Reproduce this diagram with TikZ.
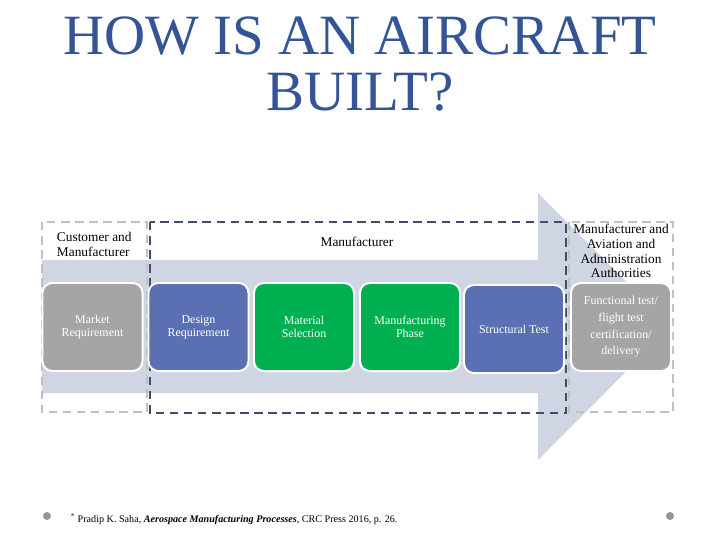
\documentclass[tikz,border=0pt]{standalone}
\usepackage{fontspec}
\setmainfont{Liberation Serif}
\usetikzlibrary{positioning}
\definecolor{acTitle}{RGB}{52,84,150}
\definecolor{acBlue}{RGB}{91,112,178}
\definecolor{acGreen}{RGB}{0,176,80}
\definecolor{acGrey}{RGB}{165,165,165}
\definecolor{acArrow}{RGB}{208,213,227}
\definecolor{acDark}{RGB}{62,78,106}
\definecolor{acLight}{RGB}{192,192,192}
\definecolor{acBack}{RGB}{224,224,224}
\definecolor{acDot}{RGB}{150,150,150}
\pgfdeclarehorizontalshading{slideback}{100bp}{color(0bp)=(acBack);
  color(25bp)=(white); color(75bp)=(white); color(100bp)=(acBack)}

\begin{document}
\begin{tikzpicture}[x=0.025cm, y=-0.025cm,
    stage/.style={rounded corners=7pt, draw=white, line width=1.4pt, text=white,
      minimum width=2.5cm, minimum height=2.2cm, align=center,
      font=\fontsize{8.5}{9.5}\selectfont},
    party/.style={align=center, font=\fontsize{9.5}{10.5}\selectfont},
    frame/.style={dash pattern=on 6pt off 4pt, line width=1.7pt}]
        \useasboundingbox (0,0) rectangle (720,540);
        \shade[shading=slideback] (0,0) rectangle (720,540);
        % title
        \node[acTitle, align=center, font=\fontsize{40.5}{39.5}\selectfont] (title) at (360,64)
          {HOW IS AN AIRCRAFT\\BUILT?};
        % groups and arrow
        \fill[white] (42,222) rectangle (673,413);
        \fill[acArrow] (42,260) -- (538,260) -- (538,193) -- (671,326.5)
          -- (538,460) -- (538,393) -- (42,393) -- cycle;
        \draw[frame, acLight] (42,222) rectangle (147,412);
        \draw[frame, acLight] (569,222) rectangle (673,412);
        \draw[frame, acDark] (150,222) rectangle (566,413);
        \node[party, align=left, anchor=north west] (cust) at (52,227)
          {Customer and\\Manufacturer};
        \node[party] (manu) at (357,242) {Manufacturer};
        \node[party] (auth) at (621,251)
          {Manufacturer and\\Aviation and\\Administration\\Authorities};
        % stages
        \node[stage, fill=acGrey] (market) at (92.5,327) {Market\\Requirement};
        \node[stage, fill=acBlue] (design) at (198.5,327) {Design\\Requirement};
        \node[stage, fill=acGreen] (material) at (304,327) {Material\\Selection};
        \node[stage, fill=acGreen] (phase) at (410,327) {Manufacturing\\Phase};
        \node[stage, fill=acBlue] (struct) at (514,329) {Structural Test};
        \node[stage, fill=acGrey, font=\fontsize{8.5}{11.8}\selectfont] (flight) at (621,327)
          {Functional test/\\flight test\\certification/\\delivery};
        % footer
        \fill[acDot] (47,516) circle (4);
        \fill[acDot] (670,516) circle (4);
        \node[anchor=west, font=\fontsize{7.2}{8}\selectfont] (ref) at (66,519)
          {\textsuperscript{*} Pradip K. Saha, \textbf{\textit{Aerospace Manufacturing Processes}}, CRC Press 2016, p. 26.};
      \end{tikzpicture}
\end{document}
